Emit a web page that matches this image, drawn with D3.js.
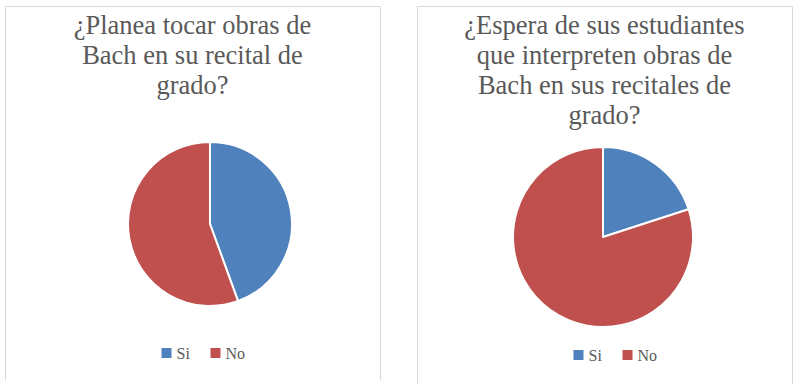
<!DOCTYPE html>
<html>
<head>
<meta charset="utf-8">
<script src="https://cdn.jsdelivr.net/npm/d3@7"></script>
<style>
  body { margin: 0; background: #fff; }
  svg { display: block; }
  text { font-family: "Liberation Serif", "DejaVu Serif", serif; fill: #595959; }
</style>
</head>
<body>
<svg id="chart-svg" width="800" height="390"></svg>
<script>
// Data
const categories = ['Si', 'No'];
const colors = ['#4f81bd', '#c0504d'];

const titleLeft = ['¿Planea tocar obras de', 'Bach en su recital de', 'grado?'];
const valuesLeft = [4, 5];

const titleRight = ['¿Espera de sus estudiantes', 'que interpreten obras de', 'Bach en sus recitales de', 'grado?'];
const valuesRight = [1, 4];

const svg = d3.select('#chart-svg');
const colorScale = d3.scaleOrdinal().domain(categories).range(colors);

const panels = [
    { x: 5, w: 375, bottom: 380, title: titleLeft, values: valuesLeft, cx: 210, cy: 224, r: 82, legendY: 353 },
    { x: 417, w: 375, bottom: 384, title: titleRight, values: valuesRight, cx: 603, cy: 237, r: 90, legendY: 355 }
];

panels.forEach(p => {
    const g = svg.append('g');

    // panel frame (no bottom edge visible in the picture)
    g.append('path')
        .attr('d', `M${p.x + 0.5},${p.bottom} V6.5 H${p.x + p.w + 0.5} V${p.bottom}`)
        .attr('fill', 'none')
        .attr('stroke', '#d9d9d9')
        .attr('stroke-width', 1);

    // title
    const midX = p.x + p.w / 2;
    g.append('text')
        .attr('text-anchor', 'middle')
        .style('font-size', '26.5px')
        .selectAll('tspan')
        .data(p.title)
        .enter().append('tspan')
        .attr('x', midX)
        .attr('y', (d, i) => 34 + i * 30)
        .text(d => d);

    // pie
    const pie = d3.pie().sort(null).value(d => d);
    const arc = d3.arc().innerRadius(0).outerRadius(p.r);
    g.append('g')
        .attr('transform', `translate(${p.cx},${p.cy})`)
        .selectAll('path')
        .data(pie(p.values))
        .enter().append('path')
        .attr('d', arc)
        .attr('fill', (d, i) => colorScale(categories[i]))
        .attr('stroke', '#fff')
        .attr('stroke-width', 2)
        .attr('stroke-linejoin', 'round');

    // legend
    const legend = g.append('g')
        .attr('transform', `translate(${midX - 31},${p.legendY})`);
    const item = legend.selectAll('g')
        .data(categories)
        .enter().append('g')
        .attr('transform', (d, i) => `translate(${i * 49},0)`);
    item.append('rect')
        .attr('x', 0)
        .attr('y', -5)
        .attr('width', 10)
        .attr('height', 10)
        .attr('fill', d => colorScale(d));
    item.append('text')
        .attr('x', 15)
        .attr('dy', '0.35em')
        .style('font-size', '16px')
        .text(d => d);
});
</script>
</body>
</html>
